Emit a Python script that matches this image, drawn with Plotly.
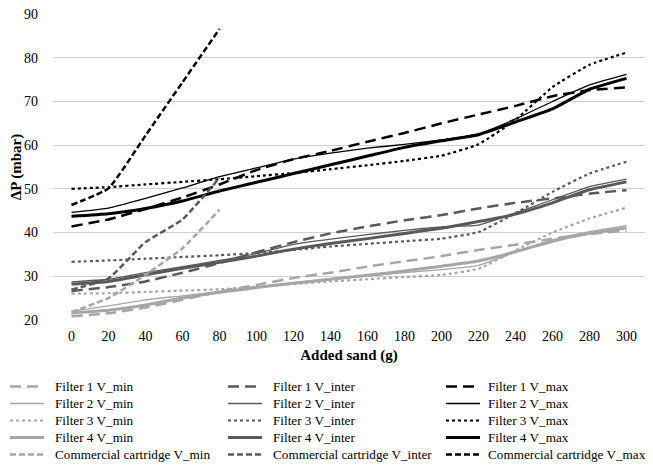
import plotly.graph_objects as go

sand = [0, 20, 40, 60, 80, 100, 120, 140, 160, 180, 200, 220, 240, 260, 280, 300]
sand_cc = [0, 20, 40, 60, 80]

f1_min = [20.8, 21.5, 22.8, 24.6, 26.5, 28.0, 29.6, 30.8, 32.2, 33.4, 34.6, 36.0, 37.2, 38.6, 39.7, 40.4]
f1_inter = [26.6, 27.5, 28.8, 30.8, 33.0, 35.5, 37.8, 39.8, 41.4, 42.8, 44.0, 45.5, 46.8, 47.8, 48.9, 49.7]
f1_max = [41.4, 43.0, 45.4, 48.0, 51.0, 54.3, 56.8, 58.7, 60.8, 62.8, 65.0, 67.0, 69.0, 71.2, 72.6, 73.2]

f2_min = [22.0, 23.2, 24.6, 25.5, 26.5, 27.5, 28.5, 29.3, 30.0, 30.8, 31.5, 32.5, 35.5, 38.3, 40.2, 41.6]
f2_inter = [28.7, 29.3, 30.8, 32.2, 33.6, 35.2, 37.3, 38.5, 39.5, 40.5, 41.3, 41.7, 44.5, 47.5, 50.5, 52.2]
f2_max = [44.6, 45.6, 47.8, 50.2, 52.8, 54.8, 56.8, 58.2, 59.3, 60.2, 61.2, 62.6, 66.0, 70.0, 73.8, 76.2]

f3_min = [26.0, 26.1, 26.4, 26.7, 27.0, 27.6, 28.2, 28.8, 29.3, 29.8, 30.3, 31.7, 35.9, 40.0, 43.2, 45.7]
f3_inter = [33.3, 33.6, 34.0, 34.4, 34.8, 35.3, 36.0, 36.8, 37.4, 38.0, 38.6, 40.1, 44.4, 49.3, 53.5, 56.2]
f3_max = [50.0, 50.4, 51.0, 51.6, 52.2, 52.9, 53.6, 54.5, 55.4, 56.4, 57.6, 60.2, 65.8, 73.3, 78.4, 81.2]

f4_min = [21.6, 22.2, 23.4, 25.0, 26.3, 27.4, 28.4, 29.3, 30.2, 31.2, 32.3, 33.5, 35.6, 38.0, 39.8, 41.1]
f4_inter = [28.2, 28.8, 30.3, 31.8, 33.2, 34.6, 36.2, 37.5, 38.6, 39.8, 41.0, 42.5, 44.2, 46.8, 49.8, 51.6]
f4_max = [43.7, 44.3, 45.5, 47.2, 49.5, 51.5, 53.5, 55.5, 57.5, 59.5, 61.0, 62.4, 65.3, 68.3, 72.8, 75.3]

cc_min = [21.8, 25.0, 30.3, 36.4, 45.2]
cc_inter = [26.9, 29.5, 37.8, 43.0, 52.5]
cc_max = [46.3, 50.1, 62.2, 74.4, 86.6]

y_ticks = [20, 30, 40, 50, 60, 70, 80, 90]

LIGHT = "#a6a6a6"
DARK = "#595959"
BLACK = "#000000"

LONG = "11px,6px"
SHORT = "6px,3px"

series = [
    ("Filter 1 V_min", sand, f1_min, LIGHT, 2.5, LONG),
    ("Filter 1 V_inter", sand, f1_inter, DARK, 2.5, LONG),
    ("Filter 1 V_max", sand, f1_max, BLACK, 2.5, LONG),
    ("Filter 2 V_min", sand, f2_min, LIGHT, 1.3, "solid"),
    ("Filter 2 V_inter", sand, f2_inter, DARK, 1.3, "solid"),
    ("Filter 2 V_max", sand, f2_max, BLACK, 1.3, "solid"),
    ("Filter 3 V_min", sand, f3_min, LIGHT, 2.2, "dot"),
    ("Filter 3 V_inter", sand, f3_inter, DARK, 2.2, "dot"),
    ("Filter 3 V_max", sand, f3_max, BLACK, 2.2, "dot"),
    ("Filter 4 V_min", sand, f4_min, LIGHT, 3, "solid"),
    ("Filter 4 V_inter", sand, f4_inter, DARK, 3, "solid"),
    ("Filter 4 V_max", sand, f4_max, BLACK, 3, "solid"),
    ("Commercial cartridge V_min", sand_cc, cc_min, LIGHT, 2.5, SHORT),
    ("Commercial cartridge V_inter", sand_cc, cc_inter, DARK, 2.5, SHORT),
    ("Commercial cartridge V_max", sand_cc, cc_max, BLACK, 2.5, SHORT),
]

# the page body has an 8px default margin; lay out in window pixels
OFF = 8
WIN_W, WIN_H = 653, 468
W, H = WIN_W - OFF, WIN_H - OFF
PL, PR, PT, PB = 53, 645, 14, 320     # plot area in window pixels
ML, MT = PL - OFF, PT - OFF
MR, MB = W - (PR - OFF), H - (PB - OFF)
PW, PH = PR - PL, PB - PT


def px_x(p):
    return (p - PL) / PW


def px_y(p):
    return (PB - p) / PH


fig = go.Figure()
for name, xs, ys, col, w, dash in series:
    fig.add_trace(go.Scatter(
        x=xs, y=ys, mode="lines", name=name, showlegend=False,
        line=dict(color=col, width=w, dash=dash, shape="spline", smoothing=0.4),
    ))

FONT = "Liberation Serif, Times New Roman, DejaVu Serif, serif"

# legend drawn as a 3-column grid (row-major order)
sym_x = [10, 228, 446]
txt_x = [53, 271, 486]
row_y = [386.5, 403.5, 420.5, 437.5, 454.5]
shapes = []
annotations = []
for i, (name, xs, ys, col, w, dash) in enumerate(series):
    r, c = divmod(i, 3)
    yy = row_y[r]
    shapes.append(dict(
        type="line", xref="paper", yref="paper",
        x0=px_x(sym_x[c]), x1=px_x(sym_x[c] + 34), y0=px_y(yy), y1=px_y(yy),
        line=dict(color=col, width=w, dash=dash),
    ))
    annotations.append(dict(
        xref="paper", yref="paper", x=px_x(txt_x[c]), y=px_y(yy),
        xanchor="left", yanchor="middle", showarrow=False, text=name,
        font=dict(family=FONT, size=13.2, color="black"),
    ))

fig.update_layout(
    width=W, height=H,
    margin=dict(l=ML, r=MR, t=MT, b=MB, autoexpand=False),
    paper_bgcolor="white", plot_bgcolor="white",
    font=dict(family=FONT, size=14, color="black"),
    showlegend=False,
    shapes=shapes,
    annotations=annotations,
    xaxis=dict(
        range=[-10, 310], tickmode="array", tickvals=sand,
        ticktext=[str(v) for v in sand], showgrid=False, zeroline=False,
        showline=False, ticks="", tickfont=dict(family=FONT, size=14),
        ticklabelstandoff=6, ticklabeloverflow="allow",
        title=dict(text="<b>Added sand (g)</b>", font=dict(family=FONT, size=15), standoff=6),
    ),
    yaxis=dict(
        range=[19.97, 90.03], tickmode="array", tickvals=y_ticks,
        showgrid=True, gridcolor="#d0d0d0", gridwidth=1.3, zeroline=False,
        showline=False, ticks="", tickfont=dict(family=FONT, size=14),
        ticklabelstandoff=14, ticklabeloverflow="allow",
        title=dict(text="<b>ΔP (mbar)</b>", font=dict(family=FONT, size=15), standoff=10),
    ),
)

fig.write_html("out.html")
